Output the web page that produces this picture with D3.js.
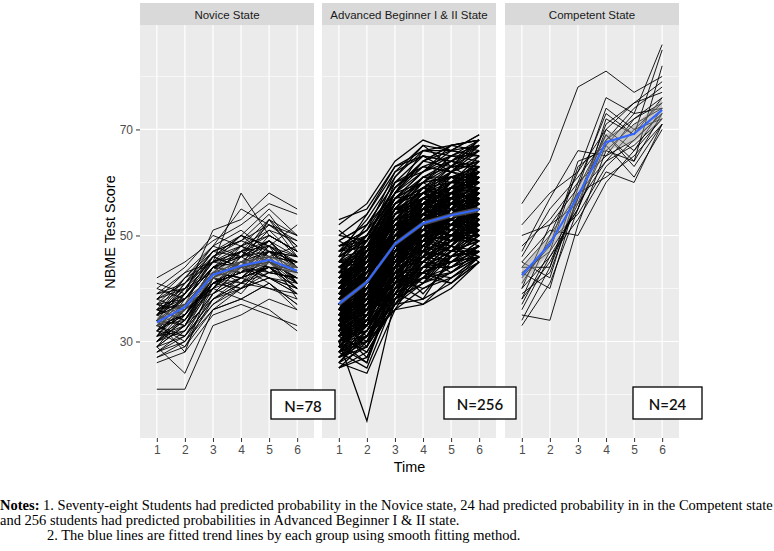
<!DOCTYPE html>
<html>
<head>
<meta charset="utf-8">
<script src="https://cdn.jsdelivr.net/npm/d3@7"></script>
<style>
  html, body { margin: 0; padding: 0; background: #ffffff; }
  svg { display: block; }
</style>
</head>
<body>
<script>
// ---------------- data ----------------
const times = [1, 2, 3, 4, 5, 6];
const panelTitles = ["Novice State", "Advanced Beginner I & II State", "Competent State"];
const nLabels = ["N=78", "N=256", "N=24"];
const yTicks = [30, 50, 70];
const yMinorTicks = [20, 40, 60, 80];
const xTitle = "Time";
const yTitle = "NBME Test Score";
const notes = [
  "1. Seventy-eight Students had predicted probability in the Novice state, 24 had predicted probability in in the Competent state",
  "and 256 students had predicted probabilities in Advanced Beginner I & II state.",
  "2. The blue lines are fitted trend lines by each group using smooth fitting method."
];

// fitted smooth lines and their standard errors
const noviceFit = [33.6, 36.5, 42.6, 44.3, 45.4, 43.3];
const noviceSe = [1.0, 0.9, 0.9, 0.9, 0.9, 1.0];
const advancedFit = [37.1, 41.2, 48.4, 52.3, 53.8, 54.9];
const advancedSe = [0.5, 0.45, 0.45, 0.45, 0.45, 0.5];
const competentFit = [42.5, 48.4, 57.5, 67.6, 69.2, 73.7];
const competentSe = [1.8, 1.6, 1.6, 1.6, 1.6, 1.9];

// individual student trajectories (score at times 1..6)
const noviceScores = [
[33,35,44,46,48,44],[30,34,41,43,45,40],[36,39,45,47,49,46],[28,31,38,40,42,39],[35,40,46,44,50,47],
[31,33,42,45,44,41],[38,41,47,49,52,48],[29,24,36,38,41,37],[34,37,43,42,46,44],[40,44,50,48,53,50],
[32,36,40,44,43,42],[21,21,33,35,38,36],[37,38,44,46,47,45],[33,30,39,42,44,43],[35,41,48,51,47,44],
[30,35,42,39,45,41],[36,34,43,47,50,47],[27,30,37,41,40,38],[39,43,45,50,55,50],[34,38,44,45,43,42],
[31,32,41,43,46,45],[33,36,40,42,44,41],[42,45,49,52,56,54],[29,33,40,45,42,40],[35,37,46,48,51,46],
[32,39,44,41,47,43],[37,35,42,44,45,42],[26,28,35,37,35,33],[34,40,47,50,48,45],[30,33,38,42,44,39],
[36,42,48,55,52,49],[33,34,42,40,45,42],[38,36,44,43,49,44],[28,32,39,44,41,37],[35,38,45,46,53,48],
[31,37,43,42,44,40],[39,41,46,49,47,46],[32,29,36,40,42,41],[34,36,44,47,45,43],[29,35,41,43,48,44],
[37,40,43,45,46,41],[33,31,40,38,41,36],[36,39,51,53,58,55],[30,34,42,46,43,42],[35,42,45,44,47,45],
[27,29,38,41,44,40],[40,38,45,48,50,47],[32,35,41,45,46,38],[34,33,43,42,47,46],[31,36,40,47,44,43],
[38,40,47,46,51,49],[33,37,39,44,42,40],[36,34,42,45,49,44],[29,31,37,40,43,42],[35,39,46,50,46,45],
[31,38,44,43,48,41],[37,36,41,44,45,43],[34,41,45,58,50,47],[30,32,39,42,40,39],[36,37,43,47,52,50],
[32,35,42,41,45,42],[38,43,48,46,49,44],[28,30,36,38,36,32],[34,38,44,48,46,48],[33,39,46,44,53,46],
[35,33,41,43,44,40],[31,34,40,45,47,43],[39,40,45,47,48,52],[30,36,43,42,46,41],[36,38,42,48,45,44],
[32,31,38,41,43,45],[37,42,47,49,54,47],[33,35,43,44,42,39],[35,37,40,46,49,43],[29,33,41,40,45,42],
[41,39,46,50,48,46],[32,36,44,43,47,41],[34,28,42,45,44,44]
];

const advancedScores = [
[37,41,48,52,54,55],[32,36,44,49,50,52],[42,46,53,57,59,60],[35,38,46,50,48,53],[40,44,51,55,58,57],
[30,34,42,46,49,50],[44,47,55,60,61,63],[36,40,49,51,53,56],[33,39,45,48,52,51],[39,43,50,56,55,58],
[28,32,40,44,47,49],[41,45,52,54,57,59],[34,37,47,53,51,54],[38,42,49,50,56,55],[31,35,43,47,46,50],
[45,48,56,61,63,64],[36,44,50,52,55,53],[33,36,41,45,50,48],[40,42,54,58,57,61],[29,33,39,43,45,47],
[37,40,48,55,53,57],[43,45,51,53,59,58],[35,39,47,49,52,54],[32,38,44,51,50,49],[39,41,52,54,56,60],
[27,31,38,42,44,46],[42,47,55,57,60,62],[34,36,46,50,49,52],[38,43,48,53,58,56],[30,35,41,48,47,51],
[46,49,57,62,64,66],[36,38,49,52,51,55],[33,41,45,47,53,50],[41,44,53,59,56,59],[28,30,40,45,48,47],
[37,42,47,51,55,57],[44,46,54,56,61,60],[35,37,44,49,50,53],[31,39,46,52,52,50],[40,43,51,53,57,61],
[26,29,37,41,43,46],[42,45,56,58,59,63],[34,40,48,47,54,52],[38,41,45,54,53,56],[32,34,43,46,49,54],
[47,50,58,63,62,65],[36,39,50,55,52,58],[33,37,42,48,51,49],[39,46,52,52,58,57],[29,31,41,44,46,48],
[43,44,49,57,60,59],[35,41,47,51,50,55],[37,36,46,53,56,53],[31,37,44,45,48,52],[41,48,54,59,57,62],
[27,33,39,47,45,47],[44,43,53,55,62,61],[34,38,50,49,53,56],[38,45,46,56,54,54],[30,32,43,43,49,50],
[48,51,59,64,66,67],[36,37,48,50,55,59],[33,42,47,54,51,51],[40,40,50,52,58,60],[25,30,36,40,42,45],
[42,49,55,56,61,58],[35,36,45,52,49,54],[37,44,51,49,56,57],[32,35,41,50,47,52],[46,47,57,60,65,64],
[38,39,47,54,52,56],[34,40,49,46,55,53],[40,47,53,58,55,61],[28,34,38,45,48,46],[43,42,52,57,59,62],
[36,42,46,48,54,55],[31,36,45,51,50,49],[39,38,49,55,57,58],[33,33,44,46,52,55],[45,50,56,59,63,63],
[37,43,50,53,51,56],[35,34,42,49,53,50],[41,46,55,56,58,60],[29,35,40,42,47,51],[38,40,48,57,55,54],
[44,48,53,55,60,65],[32,39,47,50,49,53],[36,35,46,52,56,57],[40,45,51,54,53,59],[30,33,39,47,46,48],
[49,52,60,65,64,68],[35,38,49,51,55,52],[37,44,45,55,52,58],[33,37,43,48,54,54],[42,43,54,57,56,61],
[27,32,41,43,45,49],[39,47,52,53,59,56],[34,36,47,50,48,55],[38,42,44,56,57,53],[31,34,46,45,51,52],
[45,46,55,61,60,64],[36,41,48,49,56,57],[32,38,42,52,50,51],[41,44,53,55,58,62],[29,29,38,44,47,47],
[43,47,57,58,62,60],[35,39,45,53,52,56],[37,37,50,48,55,54],[33,42,46,51,49,53],[40,43,51,57,59,59],
[26,31,37,42,41,46],[44,49,54,59,61,63],[36,36,47,51,53,58],[34,40,44,49,55,50],[39,41,52,55,54,57],
[30,36,40,46,48,52],[47,48,58,62,65,65],[37,40,49,50,52,55],[32,35,43,53,51,54],[42,46,50,54,60,61],
[35,33,46,47,49,51],[38,45,48,56,57,58],[31,37,41,44,50,53],[43,44,55,58,56,62],[28,33,39,45,44,48],
[40,48,53,52,58,57],[34,38,47,54,53,52],[36,39,44,50,55,59],[33,36,48,49,48,54],[46,49,56,60,64,62],
[37,43,51,55,53,57],[35,35,43,48,52,50],[41,47,54,57,59,63],[30,31,40,46,45,49],[39,42,49,53,57,56],
[44,45,52,58,61,60],[32,40,45,47,50,55],[36,37,50,54,52,53],[38,44,46,51,58,58],[29,34,42,43,46,47],
[48,50,59,63,62,66],[34,39,48,52,56,54],[37,36,45,50,49,57],[33,41,47,55,53,52],[42,44,53,56,60,59],
[27,30,38,41,46,48],[40,46,52,57,55,61],[35,40,44,48,54,56],[31,33,47,51,50,51],[39,43,50,54,58,55],
[45,47,56,59,62,64],[36,42,49,49,53,58],[32,36,41,50,52,50],[43,48,54,60,57,62],[30,32,43,44,48,53],
[38,39,47,55,56,55],[34,44,51,53,51,57],[41,41,48,52,59,60],[28,35,40,46,43,47],[47,51,57,62,66,65],
[35,37,46,51,54,55],[37,42,52,50,53,59],[33,34,44,53,55,51],[40,47,50,56,58,61],[31,38,45,45,49,52],
[44,42,53,59,60,63],[36,40,48,47,57,54],[29,30,39,48,46,50],[39,45,55,54,56,57],[34,36,42,50,51,56],
[42,49,56,58,63,60],[32,33,46,49,47,53],[38,43,47,56,55,58],[35,39,51,52,58,52],[45,44,54,57,59,64],
[30,37,41,45,50,49],[37,38,49,54,52,57],[41,46,52,51,57,59],[26,32,37,43,45,46],[43,47,55,61,61,62],
[36,41,45,49,55,55],[33,37,48,52,50,54],[39,40,50,57,58,56],[31,35,43,47,53,51],[46,50,58,60,63,67],
[35,43,47,53,51,56],[38,36,46,51,56,58],[34,39,52,48,54,53],[40,44,49,55,59,61],[28,31,41,44,44,48],
[44,48,53,58,60,60],[37,42,50,50,53,57],[32,38,44,54,52,52],[42,45,54,56,57,63],[29,36,38,46,49,49],
[39,41,51,53,58,59],[35,34,45,52,50,55],[36,46,48,49,56,54],[33,37,47,56,54,58],[47,49,57,61,64,63],
[38,39,46,53,51,56],[30,35,42,45,48,52],[41,43,53,58,56,60],[34,41,49,47,55,57],[37,37,44,51,53,51],
[43,48,55,57,62,64],[31,32,40,49,47,50],[39,45,51,55,59,58],[36,38,48,54,52,55],[33,40,43,48,55,53],
[45,45,56,59,58,63],[27,31,39,42,46,47],[40,47,52,56,57,61],[35,36,47,50,53,56],[38,42,50,53,56,54],
[32,39,45,52,49,52],[48,49,58,64,63,66],[34,35,46,48,52,57],[37,43,48,55,54,55],[42,46,53,54,60,62],
[30,33,41,47,46,51],[39,39,49,52,57,58],[35,44,51,57,55,53],[33,36,44,46,51,55],[44,47,57,60,61,61],
[36,40,46,50,54,59],[31,37,47,53,50,50],[41,42,51,56,59,60],[29,34,40,44,47,49],[38,46,52,55,56,57],
[53,55,63,66,67,68],[50,54,62,67,66,69],[49,46,58,64,67,68],[25,28,37,38,41,45],[26,24,36,37,40,45],
[28,25,38,43,42,46],[30,15,38,41,44,47],[32,27,39,37,42,46],[51,47,60,63,65,67],[47,53,61,66,65,68],
[29,26,42,40,43,47],[35,31,36,44,45,46],[52,56,64,68,66,69],[43,50,59,64,67,66],[27,29,44,39,45,48],
[36,33,40,42,48,45],[48,51,62,65,64,67],[31,28,37,45,44,46],[45,52,60,62,67,68],[33,30,43,41,47,49],
[50,49,61,67,63,68],[25,27,39,42,43,46],[46,54,63,65,62,67],[34,29,41,38,46,48],[49,52,58,66,66,65],
[30,26,40,43,41,45]
];

const competentScores = [
[56,64,78,81,77,80],[44,50,62,76,73,86],[40,46,55,72,69,85],[35,34,52,66,64,82],[48,53,60,65,72,76],
[38,45,56,70,66,74],[43,40,58,64,70,72],[46,55,61,68,74,78],[34,44,57,69,63,71],[41,49,54,63,68,73],
[50,52,59,74,70,75],[37,47,63,67,61,70],[45,51,50,60,66,72],[39,43,57,71,75,77],[42,48,64,66,71,74],
[36,46,53,62,60,71],[47,57,66,65,68,73],[33,41,55,68,72,75],[44,44,60,73,69,76],[40,52,56,64,67,72],
[52,58,62,70,75,79],[38,50,58,61,65,71],[43,47,55,67,73,74],[45,42,59,69,64,73]
];

// ---------------- layout ----------------
const W = 774, H = 551;
const panelLeft = [140, 322, 505];
const panelW = 174;
const panelTop = 25, panelBottom = 438;
const stripTop = 3;

const groups = [
  { scores: noviceScores, fit: noviceFit, se: noviceSe, lw: 0.9 },
  { scores: advancedScores, fit: advancedFit, se: advancedSe, lw: 1.25 },
  { scores: competentScores, fit: competentFit, se: competentSe, lw: 0.9 }
];
const nBoxes = [
  { x: 271, y: 390, w: 64, h: 29 },
  { x: 444, y: 387, w: 72, h: 32 },
  { x: 633, y: 387, w: 69, h: 32 }
];

const svg = d3.select("body").append("svg")
  .attr("width", W).attr("height", H)
  .style("font-family", "'Liberation Sans', Arial, sans-serif");

const y = d3.scaleLinear().domain([11.8, 89.7]).range([panelBottom, panelTop]);
const x = d3.scalePoint().domain(times).range([0, panelW]).padding(0.6);

groups.forEach((grp, i) => {
  const g = svg.append("g").attr("transform", `translate(${panelLeft[i]},0)`);

  // strip
  g.append("rect").attr("x", 0).attr("y", stripTop).attr("width", panelW)
    .attr("height", panelTop - stripTop).attr("fill", "#D9D9D9");
  g.append("text").attr("x", panelW / 2).attr("y", (stripTop + panelTop) / 2 + 0.5)
    .attr("text-anchor", "middle").attr("dominant-baseline", "central")
    .attr("font-size", "11.5px").attr("fill", "#1A1A1A").text(panelTitles[i]);

  // panel background
  g.append("rect").attr("x", 0).attr("y", panelTop).attr("width", panelW)
    .attr("height", panelBottom - panelTop).attr("fill", "#EBEBEB");

  // grid
  g.selectAll(".minor").data(yMinorTicks).join("line")
    .attr("x1", 0).attr("x2", panelW).attr("y1", d => y(d)).attr("y2", d => y(d))
    .attr("stroke", "#ffffff").attr("stroke-width", 0.6);
  g.selectAll(".major").data(yTicks).join("line")
    .attr("x1", 0).attr("x2", panelW).attr("y1", d => y(d)).attr("y2", d => y(d))
    .attr("stroke", "#ffffff").attr("stroke-width", 1.2);
  g.selectAll(".vgrid").data(times).join("line")
    .attr("x1", d => x(d)).attr("x2", d => x(d)).attr("y1", panelTop).attr("y2", panelBottom)
    .attr("stroke", "#ffffff").attr("stroke-width", 1.2);

  // individual trajectories
  const line = d3.line().x((d, k) => x(times[k])).y(d => y(d));
  g.append("g").selectAll("path").data(grp.scores).join("path")
    .attr("d", line).attr("fill", "none").attr("stroke", "#000000")
    .attr("stroke-width", grp.lw).attr("stroke-linejoin", "miter");

  // smooth band
  const area = d3.area().x((d, k) => x(times[k]))
    .y0((d, k) => y(d - grp.se[k])).y1((d, k) => y(d + grp.se[k]));
  g.append("path").attr("d", area(grp.fit)).attr("fill", "#999999").attr("fill-opacity", 0.45);
  g.append("path").attr("d", line(grp.fit)).attr("fill", "none")
    .attr("stroke", "#3366FF").attr("stroke-width", 2.1);

  // x axis
  const xa = g.append("g").attr("transform", `translate(0,${panelBottom})`)
    .call(d3.axisBottom(x).tickSize(4).tickPadding(3));
  xa.select(".domain").remove();
  xa.selectAll(".tick line").attr("stroke", "#333333").attr("stroke-width", 1);
  xa.selectAll(".tick text").attr("fill", "#4D4D4D").attr("font-size", "12px")
    .attr("font-family", "'Liberation Sans', Arial, sans-serif");
});

// N boxes
nBoxes.forEach((b, i) => {
  svg.append("rect").attr("x", b.x).attr("y", b.y).attr("width", b.w).attr("height", b.h)
    .attr("fill", "#ffffff").attr("stroke", "#000000").attr("stroke-width", 1.3);
  svg.append("text").attr("x", b.x + b.w / 2).attr("y", b.y + b.h / 2 + 1)
    .attr("text-anchor", "middle").attr("dominant-baseline", "central")
    .attr("font-family", "Lato, 'Open Sans', sans-serif").attr("font-weight", 600)
    .attr("font-size", "15px").attr("fill", "#111111").text(nLabels[i]);
});

// y axis
const ya = svg.append("g").attr("transform", `translate(${panelLeft[0]},0)`)
  .call(d3.axisLeft(y).tickValues(yTicks).tickSize(4).tickPadding(3));
ya.select(".domain").remove();
ya.selectAll(".tick line").attr("stroke", "#333333").attr("stroke-width", 1);
ya.selectAll(".tick text").attr("fill", "#4D4D4D").attr("font-size", "12px")
  .attr("font-family", "'Liberation Sans', Arial, sans-serif");

// axis titles
svg.append("text").attr("x", (panelLeft[0] + panelLeft[2] + panelW) / 2).attr("y", 467)
  .attr("text-anchor", "middle").attr("dominant-baseline", "central")
  .attr("font-size", "14.4px").attr("fill", "#000000").text(xTitle);
svg.append("text").attr("transform", "translate(110,232) rotate(-90)")
  .attr("text-anchor", "middle").attr("dominant-baseline", "central")
  .attr("font-size", "14.4px").attr("fill", "#000000").text(yTitle);

// notes
const notesG = svg.append("g").attr("font-family", "'Liberation Serif', 'Times New Roman', serif")
  .attr("font-size", "14.5px").attr("fill", "#000000");
const n1 = notesG.append("text").attr("x", 0).attr("y", 510);
n1.append("tspan").attr("font-weight", "bold").text("Notes:");
n1.append("tspan").text(" " + notes[0]);
notesG.append("text").attr("x", 0).attr("y", 525).text(notes[1]);
notesG.append("text").attr("x", 47).attr("y", 540).text(notes[2]);
</script>
</body>
</html>
